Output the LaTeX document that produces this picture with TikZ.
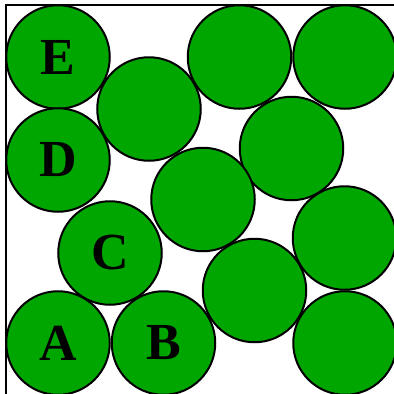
\documentclass[tikz,border=0pt]{standalone}
\usepackage{fontspec}
\setmainfont{Liberation Serif}
\usetikzlibrary{positioning}
\definecolor{discgreen}{RGB}{0,166,0}

\begin{document}
\begin{tikzpicture}[
        x=1pt, y=-1pt,
        disc/.style={circle, draw=black, fill=discgreen, line width=2pt, inner sep=0pt, minimum size=103.5pt, font=\fontsize{52}{52}\selectfont\bfseries},
        frame/.style={draw=black, line width=2pt}
    ]
        \useasboundingbox (0,0) rectangle (394,394);
        \clip (0,0) rectangle (394,394);
        \draw[frame] (5.5,4.5) rectangle (398,398);

        % lettered discs
        \node[disc] (e) at (58,57) {E};
        \node[disc] (d) at (58,160) {D};
        \node[disc] (c) at (110,253) {C};
        \node[disc] (a) at (58,343) {A};
        \node[disc] (b) at (163.5,343) {B};

        % the rest
        \node[disc] (m1) at (149,109) {};
        \node[disc] (t1) at (239.5,57) {};
        \node[disc] (t2) at (345,57) {};
        \node[disc] (m2) at (291.5,148.5) {};
        \node[disc] (m3) at (203,199.5) {};
        \node[disc] (r1) at (344.5,238) {};
        \node[disc] (m4) at (254.5,290.5) {};
        \node[disc] (r2) at (345,343) {};
    \end{tikzpicture}
\end{document}
